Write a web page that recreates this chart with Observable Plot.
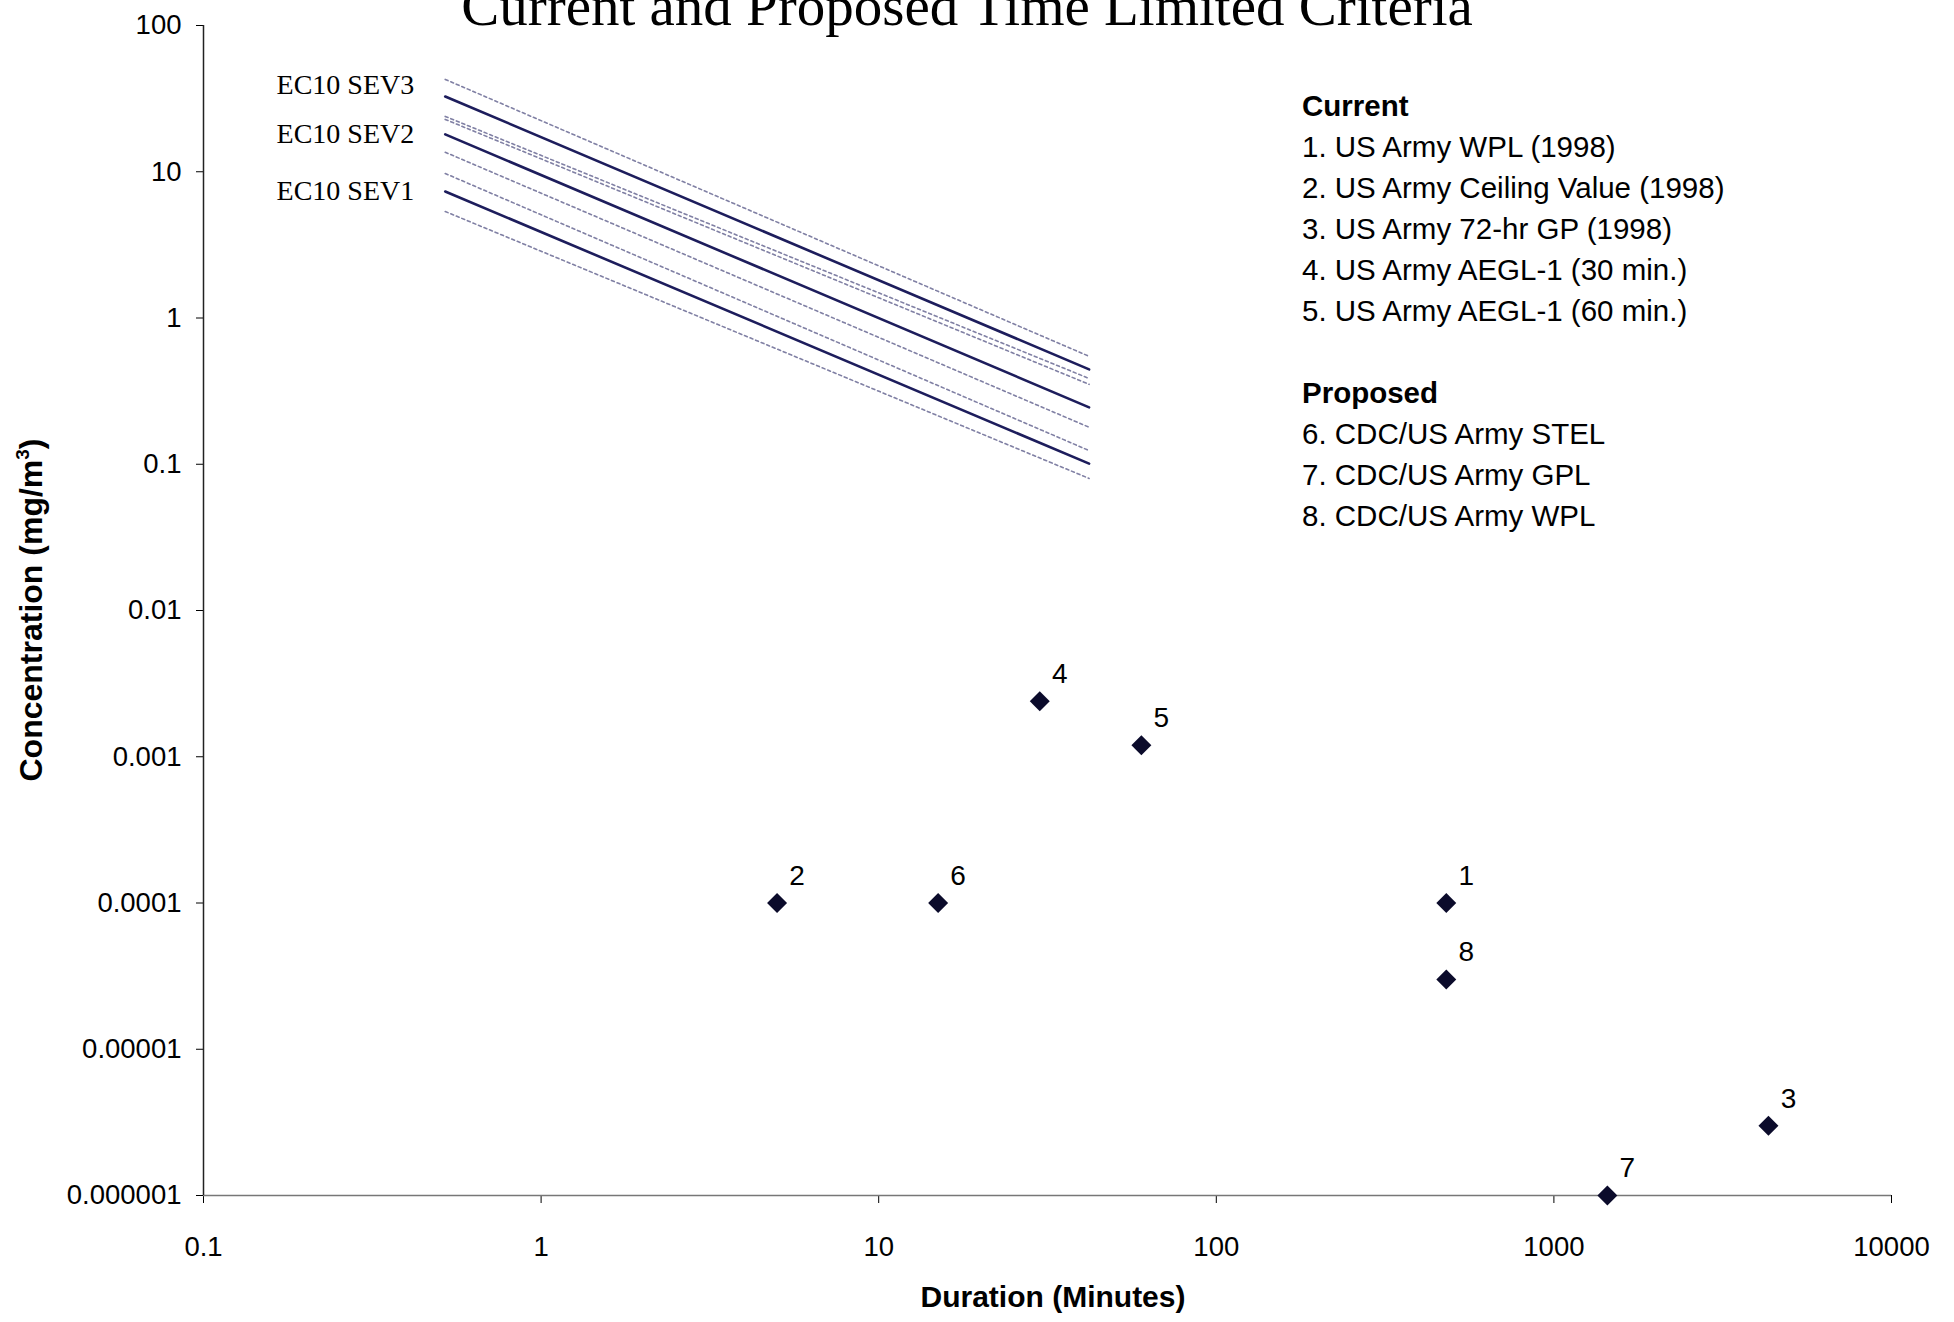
<!DOCTYPE html>
<html>
<head>
<meta charset="utf-8">
<script src="https://cdn.jsdelivr.net/npm/d3@7"></script>
<script src="https://cdn.jsdelivr.net/npm/@observablehq/plot@0.6"></script>
<style>
  html, body { margin: 0; padding: 0; background: #fff; overflow: hidden; }
  #wrap { position: relative; width: 1954px; height: 1322px; overflow: hidden; }
  #title { position: absolute; left: 967px; top: -22px; transform: translateX(-50%);
           font-family: "Liberation Serif", "Times New Roman", serif; font-size: 57px; line-height: 56px;
           white-space: nowrap; color: #000; }
  #legend { position: absolute; left: 1302px; top: 85px; font-family: "Liberation Sans", Arial, sans-serif;
            font-size: 29.5px; line-height: 41px; color: #000; white-space: nowrap; }
  #legend .h { font-weight: bold; }
  #ylabel { position: absolute; left: 31px; top: 610px; transform: translate(-50%, -50%) rotate(-90deg);
            font-family: "Liberation Sans", Arial, sans-serif; font-weight: bold; font-size: 32px; white-space: nowrap; }
  #ylabel sup { font-size: 19px; vertical-align: 13px; line-height: 0; }
  #xlabel { position: absolute; left: 1053px; top: 1297px; transform: translate(-50%, -50%);
            font-family: "Liberation Sans", Arial, sans-serif; font-weight: bold; font-size: 30px; white-space: nowrap; }
</style>
</head>
<body>
<div id="wrap"></div>
<script>
// ---- data ----
const chartTitle = "Current and Proposed Time Limited Criteria";
const xAxisTitle = "Duration (Minutes)";
const yAxisTitleMain = "Concentration (mg/m";
const yAxisTitleSup = "3";

const xTicks = [0.1, 1, 10, 100, 1000, 10000];
const xTickLabels = ["0.1", "1", "10", "100", "1000", "10000"];
const yTicks = [0.000001, 0.00001, 0.0001, 0.001, 0.01, 0.1, 1, 10, 100];
const yTickLabels = ["0.000001", "0.00001", "0.0001", "0.001", "0.01", "0.1", "1", "10", "100"];

// criteria points
const pointIds = ["1", "2", "3", "4", "5", "6", "7", "8"];
const pointDurations = [480, 5, 4320, 30, 60, 15, 1440, 480];
const pointConcentrations = [0.0001, 0.0001, 0.000003, 0.0024, 0.0012, 0.0001, 0.000001, 0.00003];

// EC10 severity lines (start and end durations)
const ec10Durations = [0.52, 42];
const ec10Names = ["EC10 SEV3", "EC10 SEV2", "EC10 SEV1"];
const sev3 = [32.7, 0.445];
const sev3Upper = [42.8, 0.547];
const sev3Lower = [23.9, 0.386];
const sev2 = [18.0, 0.245];
const sev2Upper = [22.8, 0.352];
const sev2Lower = [13.6, 0.179];
const sev1 = [7.33, 0.101];
const sev1Upper = [9.73, 0.124];
const sev1Lower = [5.35, 0.080];

const legendCurrentTitle = "Current";
const legendCurrent = [
  "1. US Army WPL (1998)",
  "2. US Army Ceiling Value (1998)",
  "3. US Army 72-hr GP (1998)",
  "4. US Army AEGL-1 (30 min.)",
  "5. US Army AEGL-1 (60 min.)"
];
const legendProposedTitle = "Proposed";
const legendProposed = [
  "6. CDC/US Army STEL",
  "7. CDC/US Army GPL",
  "8. CDC/US Army WPL"
];

// ---- build tables ----
const points = pointIds.map((id, i) => ({id, t: pointDurations[i], c: pointConcentrations[i]}));
const solidSeries = [["SEV3", sev3], ["SEV2", sev2], ["SEV1", sev1]];
const boundSeries = [["SEV3U", sev3Upper], ["SEV3L", sev3Lower], ["SEV2U", sev2Upper],
                     ["SEV2L", sev2Lower], ["SEV1U", sev1Upper], ["SEV1L", sev1Lower]];
const toRows = (list) => list.flatMap(([s, vals]) => vals.map((v, i) => ({s, t: ec10Durations[i], c: v})));
const solidRows = toRows(solidSeries);
const boundRows = toRows(boundSeries);
const labelRows = solidSeries.map(([s, vals], i) => ({name: ec10Names[i], t: ec10Durations[0], c: vals[0]}));

const xFmt = new Map(xTicks.map((v, i) => [v, xTickLabels[i]]));
const yFmt = new Map(yTicks.map((v, i) => [v, yTickLabels[i]]));

const serif = "'Liberation Serif', 'Times New Roman', serif";

const chart = Plot.plot({
  width: 1954,
  height: 1322,
  marginLeft: 203,
  marginRight: 63,
  marginTop: 25,
  marginBottom: 127,
  style: {fontFamily: "'Liberation Sans', Arial, sans-serif", fontSize: "27.5px", color: "#000", background: "#fff", overflow: "visible"},
  x: {type: "log", domain: [0.1, 10000], ticks: xTicks, tickFormat: d => xFmt.get(d) ?? "", tickSize: 8, tickPadding: 33, label: null},
  y: {type: "log", domain: [0.000001, 100], ticks: yTicks, tickFormat: d => yFmt.get(d) ?? "", tickSize: 7, tickPadding: 15, label: null},
  marks: [
    Plot.ruleY([0.000001], {stroke: "#777", strokeWidth: 1.5}),
    Plot.ruleX([0.1], {stroke: "#222", strokeWidth: 1.5}),
    Plot.line(boundRows, {x: "t", y: "c", z: "s", stroke: "#8080a4", strokeWidth: 1.6, strokeDasharray: "3,3"}),
    Plot.line(solidRows, {x: "t", y: "c", z: "s", stroke: "#1d1d5c", strokeWidth: 2.6}),
    Plot.text(labelRows.slice(0, 1), {x: "t", y: "c", text: "name", textAnchor: "end", dx: -31, dy: -11,
      fontFamily: serif, fontSize: 28, fill: "#000"}),
    Plot.text(labelRows.slice(1), {x: "t", y: "c", text: "name", textAnchor: "end", dx: -31, dy: 0,
      fontFamily: serif, fontSize: 28, fill: "#000"}),
    Plot.dot(points, {x: "t", y: "c", symbol: "diamond2", r: 9, fill: "#0b0b2b", stroke: "none"}),
    Plot.text(points, {x: "t", y: "c", text: "id", dx: 20, dy: -27, fontSize: 28, fill: "#000"})
  ]
});

const wrap = document.getElementById("wrap");
wrap.appendChild(chart);

const title = document.createElement("div");
title.id = "title";
title.textContent = chartTitle;
wrap.appendChild(title);

const ylabel = document.createElement("div");
ylabel.id = "ylabel";
ylabel.append(yAxisTitleMain);
const sup = document.createElement("sup");
sup.textContent = yAxisTitleSup;
ylabel.append(sup, ")");
wrap.appendChild(ylabel);

const xlabel = document.createElement("div");
xlabel.id = "xlabel";
xlabel.textContent = xAxisTitle;
wrap.appendChild(xlabel);

const legend = document.createElement("div");
legend.id = "legend";
const addLine = (txt, cls) => { const d = document.createElement("div"); if (cls) d.className = cls; d.textContent = txt || "\u00a0"; legend.appendChild(d); };
addLine(legendCurrentTitle, "h");
legendCurrent.forEach(t => addLine(t));
addLine("");
addLine(legendProposedTitle, "h");
legendProposed.forEach(t => addLine(t));
wrap.appendChild(legend);
</script>
</body>
</html>
